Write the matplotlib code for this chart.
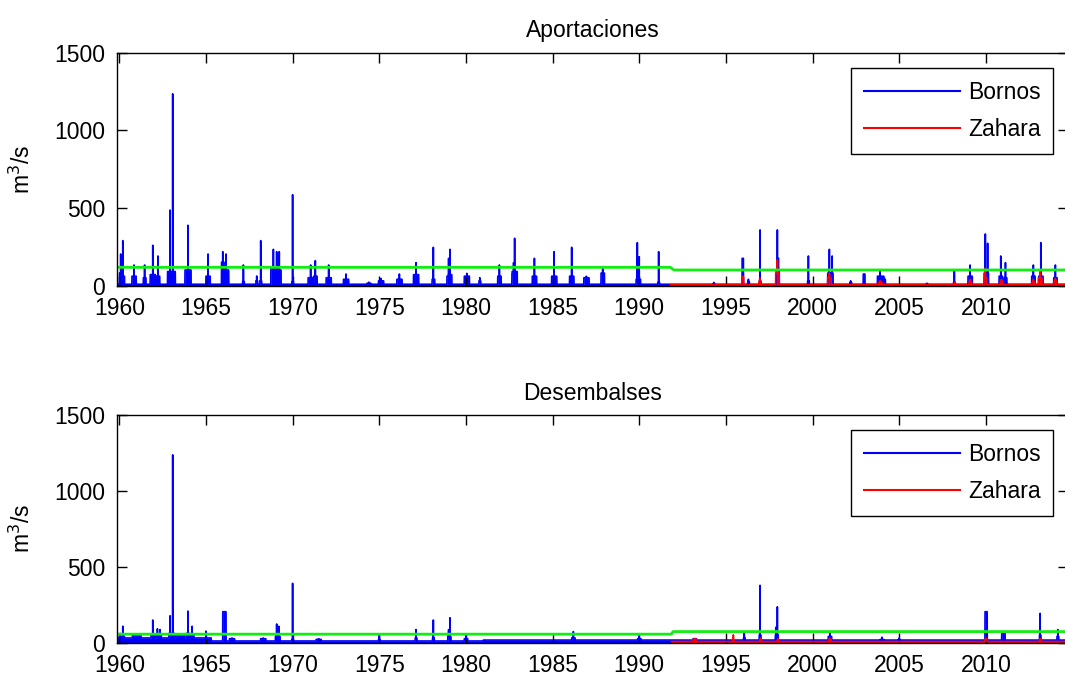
import numpy as np
import matplotlib
matplotlib.use("Agg")
import matplotlib.pyplot as plt

plt.rcParams['font.family'] = ['Liberation Sans', 'DejaVu Sans']

# ---------------- data ----------------
x_start, x_end = 1959.85, 2014.75
xtick_years = [1960, 1965, 1970, 1975, 1980, 1985, 1990, 1995, 2000, 2005, 2010]
yticks = [0, 500, 1000, 1500]
titles = ["Aportaciones", "Desembalses"]
series_names = ["Bornos", "Zahara"]

# Aportaciones - Bornos : event time, peak, hump level, hump width (years)
ap_b_t    = [1960.08, 1960.20, 1960.85, 1961.46, 1961.93, 1962.23, 1962.93, 1963.08, 1963.96,
             1965.12, 1965.97, 1966.16, 1967.16, 1967.93, 1968.16, 1968.89, 1969.08, 1969.23,
             1970.00, 1971.04, 1971.31, 1972.08, 1973.08, 1974.40, 1975.10, 1976.16, 1977.12,
             1978.12, 1979.00, 1979.08, 1980.05, 1980.80, 1981.93, 1982.75, 1982.81, 1983.95,
             1985.09, 1986.10, 1986.95, 1987.89, 1989.89, 1990.00, 1991.12,
             1994.30, 1995.97, 1996.30, 1996.97, 1997.97, 1998.03, 1999.76, 2000.97, 2001.13,
             2002.20, 2002.97, 2003.89, 2004.10, 2006.60, 2008.18, 2009.09, 2009.97, 2010.10,
             2010.86, 2011.13, 2012.74, 2013.17, 2014.01]
ap_b_peak = [203, 289, 132, 132, 259, 190, 486, 1235, 388,
             203, 218, 203, 132, 61, 289, 233, 218, 218,
             585, 132, 160, 132, 74, 22, 45, 74, 147,
             246, 175, 233, 78, 50, 132, 147, 304, 175,
             218, 246, 60, 108, 276, 185, 218,
             20, 175, 40, 358, 358, 175, 190, 233, 190,
             30, 74, 89, 60, 15, 96, 132, 332, 272,
             190, 147, 132, 276, 132]
ap_b_hump = [80, 60, 60, 50, 70, 60, 90, 90, 100,
             60, 150, 100, 25, 30, 30, 120, 120, 100,
             25, 50, 60, 50, 40, 15, 30, 40, 70,
             40, 60, 70, 60, 30, 60, 70, 90, 60,
             60, 60, 50, 80, 40, 40, 20,
             10, 175, 25, 30, 90, 90, 30, 80, 80,
             20, 74, 60, 40, 10, 20, 60, 80, 80,
             60, 50, 60, 60, 50]
ap_b_w    = [0.15, 0.20, 0.25, 0.15, 0.30, 0.20, 0.30, 0.30, 0.35,
             0.25, 0.15, 0.30, 0.10, 0.10, 0.10, 0.30, 0.20, 0.20,
             0.10, 0.30, 0.20, 0.30, 0.30, 0.20, 0.30, 0.30, 0.30,
             0.15, 0.20, 0.20, 0.30, 0.10, 0.20, 0.20, 0.30, 0.25,
             0.30, 0.25, 0.30, 0.20, 0.15, 0.15, 0.10,
             0.10, 0.08, 0.10, 0.10, 0.15, 0.10, 0.10, 0.20, 0.10,
             0.10, 0.10, 0.30, 0.20, 0.10, 0.10, 0.25, 0.15, 0.10,
             0.20, 0.15, 0.20, 0.25, 0.20]
ap_b_base = 8

# Aportaciones - Zahara
ap_z_start = 1991.80
ap_z_t    = [1995.97, 1996.95, 1997.97, 2000.97, 2003.90, 2008.20, 2009.10, 2009.97, 2010.90, 2012.74, 2013.13, 2014.01]
ap_z_peak = [61, 46, 164, 80, 30, 20, 40, 111, 40, 40, 89, 45]
ap_z_hump = [55, 20, 80, 50, 20, 10, 25, 50, 25, 25, 50, 30]
ap_z_w    = [0.10, 0.10, 0.20, 0.20, 0.20, 0.10, 0.15, 0.15, 0.15, 0.15, 0.20, 0.15]
ap_z_base = 5

# Desembalses - Bornos
de_b_t    = [1960.05, 1960.20, 1961.00, 1961.93, 1962.20, 1962.35, 1962.93, 1963.08, 1963.50,
             1963.96, 1964.20, 1965.00, 1966.06, 1966.50, 1968.30, 1969.08, 1969.20, 1970.00,
             1971.50, 1975.00, 1977.12, 1978.12, 1979.00, 1979.08, 1980.00, 1986.20, 1990.00,
             1993.20, 1996.06, 1996.97, 1997.90, 1997.97, 2001.00, 2004.00, 2005.00, 2010.01,
             2011.01, 2013.13, 2014.15]
de_b_peak = [60, 107, 50, 148, 90, 85, 176, 1237, 50,
             207, 107, 75, 203, 30, 30, 122, 107, 390,
             25, 55, 85, 148, 85, 163, 45, 72, 45,
             25, 70, 377, 102, 235, 70, 35, 30, 203,
             60, 192, 85]
de_b_hump = [40, 40, 45, 50, 50, 50, 60, 60, 50,
             60, 50, 30, 203, 25, 25, 40, 40, 20,
             20, 20, 30, 30, 40, 40, 25, 30, 25,
             25, 30, 50, 50, 50, 40, 20, 20, 203,
             60, 50, 40]
de_b_w    = [0.10, 0.20, 0.50, 0.20, 0.15, 0.15, 0.15, 0.20, 0.50,
             0.20, 0.20, 0.10, 0.19, 0.30, 0.30, 0.15, 0.15, 0.10,
             0.30, 0.10, 0.10, 0.10, 0.10, 0.10, 0.20, 0.20, 0.20,
             0.20, 0.10, 0.10, 0.10, 0.10, 0.20, 0.20, 0.10, 0.13,
             0.20, 0.08, 0.10]
de_b_base_t = [1959.85, 1965.30, 1981.00]   # start of each base period
de_b_base_v = [30, 10, 16]

# Desembalses - Zahara
de_z_start = 1991.85
de_z_t    = [1993.20, 1995.43, 1997.00, 1998.00, 2001.00, 2010.00, 2013.13]
de_z_peak = [25, 50, 30, 25, 30, 30, 25]
de_z_hump = [20, 15, 15, 15, 20, 20, 15]
de_z_w    = [0.20, 0.05, 0.10, 0.10, 0.15, 0.15, 0.10]
de_z_base = 6

# green reference lines
ap_g_t = [1959.85, 1991.80, 1992.00, 2014.75]
ap_g_v = [117, 117, 100, 100]
de_g_t = [1959.85, 1991.85, 1991.95, 2014.75]
de_g_v = [55, 55, 72, 72]

# ---------------- build daily series ----------------
t_days = np.arange(x_start, x_end, 1 / 365.25)


def build(base_t, base_v, ev_t, ev_peak, ev_hump, ev_w, start=None):
    v = np.zeros_like(t_days)
    for bt, bv in zip(base_t, base_v):
        v[t_days >= bt] = bv
    for t, p, h, w in zip(ev_t, ev_peak, ev_hump, ev_w):
        m = (t_days >= t - w / 2) & (t_days <= t + w / 2)
        v[m] = np.maximum(v[m], h)
        i = np.argmin(np.abs(t_days - t))
        v[i] = max(v[i], p)
    if start is not None:
        keep = t_days >= start
        return t_days[keep], v[keep]
    return t_days, v


panels = [
    dict(title=titles[0],
         b=build([x_start], [ap_b_base], ap_b_t, ap_b_peak, ap_b_hump, ap_b_w),
         z=build([x_start], [ap_z_base], ap_z_t, ap_z_peak, ap_z_hump, ap_z_w, ap_z_start),
         g=(ap_g_t, ap_g_v)),
    dict(title=titles[1],
         b=build(de_b_base_t, de_b_base_v, de_b_t, de_b_peak, de_b_hump, de_b_w),
         z=build([x_start], [de_z_base], de_z_t, de_z_peak, de_z_hump, de_z_w, de_z_start),
         g=(de_g_t, de_g_v)),
]

# ---------------- figure ----------------
W, H = 1065, 679
fig = plt.figure(figsize=(W / 100, H / 100), dpi=100)
fs = 16.5

axes_px = [(116.7, 52.7, 1068.2, 285.5), (116.7, 415.0, 1068.2, 642.5)]
legend_px = [(1053, 68), (1053, 430)]

for p, (l, t, r, b), (lx, ly) in zip(panels, axes_px, legend_px):
    ax = fig.add_axes([l / W, 1 - b / H, (r - l) / W, (b - t) / H])
    tb, vb = p['b']
    tz, vz = p['z']
    ax.fill_between(tb, 0, vb, color='#0000ff', lw=0)
    ax.plot(tb, vb, color='#0000ff', lw=1.2, label=series_names[0])
    ax.fill_between(tz, 0, vz, color='#ff0000', lw=0)
    ax.plot(tz, vz, color='#ff0000', lw=1.2, label=series_names[1])
    ax.plot(p['g'][0], p['g'][1], color='#11ee11', lw=2.0)
    ax.set_xlim(x_start, x_end)
    ax.set_ylim(0, 1500)
    ax.set_xticks(xtick_years)
    ax.set_xticklabels([str(y) for y in xtick_years])
    ax.set_yticks(yticks)
    ax.tick_params(direction='in', length=7.2, width=1.0, top=True, right=True,
                   labelsize=fs)
    ax.tick_params(axis='x', pad=8.5)
    ax.tick_params(axis='y', pad=8.5)
    for s in ax.spines.values():
        s.set_linewidth(1.0)
    ax.set_title(p['title'], fontsize=fs, pad=11)
    ax.set_ylabel('m$^3$/s', fontsize=fs, labelpad=14)
    leg = ax.legend(loc='upper right', bbox_to_anchor=(lx / W, 1 - ly / H),
                    bbox_transform=fig.transFigure, borderaxespad=0,
                    fontsize=fs, handlelength=4.2, handletextpad=0.35,
                    borderpad=0.55, labelspacing=0.65, fancybox=False,
                    framealpha=1, edgecolor='black')
    leg.get_frame().set_linewidth(1.0)
    for ln in leg.get_lines():
        ln.set_linewidth(1.5)

fig.savefig('out.png', dpi=100)
